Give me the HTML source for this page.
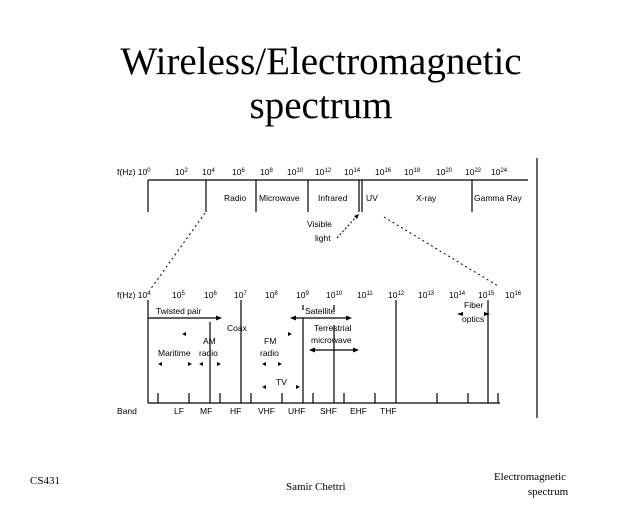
<!DOCTYPE html>
<html><head><style>
body{margin:0;background:#fff;}
svg{display:block;}
.s{font-family:"Liberation Sans",sans-serif;font-size:8.5px;fill:#000;}
.t{font-family:"Liberation Serif",serif;font-size:39px;fill:#000;}
.f{font-family:"Liberation Serif",serif;font-size:11px;fill:#000;}
</style></head><body>
<svg width="640" height="512" viewBox="0 0 640 512" xmlns="http://www.w3.org/2000/svg">
<text class="t" x="321" y="74" text-anchor="middle">Wireless/Electromagnetic</text>
<text class="t" x="321" y="118" text-anchor="middle">spectrum</text>
<g stroke="#000" stroke-width="1.2" fill="none">
<line x1="537" y1="158" x2="537" y2="418"/>
<line x1="148" y1="180" x2="528" y2="180"/>
<line x1="148" y1="180" x2="148" y2="212"/>
<line x1="206" y1="180" x2="206" y2="212"/>
<line x1="256" y1="180" x2="256" y2="212"/>
<line x1="308" y1="180" x2="308" y2="212"/>
<line x1="359" y1="180" x2="359" y2="212"/>
<line x1="362" y1="180" x2="362" y2="212"/>
<line x1="472" y1="180" x2="472" y2="212"/>
<line x1="205" y1="213" x2="150" y2="290" stroke-dasharray="2,3" stroke-width="1"/>
<line x1="384" y1="217" x2="498" y2="286" stroke-dasharray="2,3" stroke-width="1"/>
<line x1="337" y1="238" x2="357" y2="216" stroke-dasharray="2,2" stroke-width="1"/>
<line x1="148" y1="403" x2="500" y2="403"/>
<line x1="148" y1="300" x2="148" y2="403"/>
<line x1="210" y1="322" x2="210" y2="403"/>
<line x1="241" y1="300" x2="241" y2="403"/>
<line x1="303" y1="318" x2="303" y2="403"/>
<line x1="334" y1="325" x2="334" y2="403"/>
<line x1="396" y1="300" x2="396" y2="403"/>
<line x1="488" y1="300" x2="488" y2="403"/>
<line x1="158" y1="393" x2="158" y2="403"/><line x1="189" y1="393" x2="189" y2="403"/>
<line x1="220" y1="393" x2="220" y2="403"/><line x1="251" y1="393" x2="251" y2="403"/>
<line x1="282" y1="393" x2="282" y2="403"/><line x1="313" y1="393" x2="313" y2="403"/>
<line x1="344" y1="393" x2="344" y2="403"/><line x1="375" y1="393" x2="375" y2="403"/>
<line x1="437" y1="393" x2="437" y2="403"/><line x1="468" y1="393" x2="468" y2="403"/>
<line x1="498" y1="393" x2="498" y2="403"/>
<line x1="148" y1="318" x2="218" y2="318"/>
<line x1="293" y1="318" x2="350" y2="318"/>
<line x1="311" y1="350" x2="357" y2="350"/>
<line x1="303" y1="305" x2="303" y2="310" /><line x1="334" y1="305" x2="334" y2="310"/>
</g>
<g fill="#000">
<polygon points="222,318 216,315.5 216,320.5"/>
<polygon points="290,318 296,315.5 296,320.5"/><polygon points="352,318 346,315.5 346,320.5"/>
<polygon points="309,350 315,347.5 315,352.5"/><polygon points="359,350 353,347.5 353,352.5"/>
<polygon points="359,214 354,216 357,219"/>
<polygon points="457,314 463,312 463,316"/><polygon points="490,314 484,312 484,316"/>
<polygon points="182,334 186,332 186,336"/><polygon points="292,334 288,332 288,336"/>
<polygon points="158,364 162,362 162,366"/><polygon points="192,364 188,362 188,366"/>
<polygon points="199,364 203,362 203,366"/><polygon points="221,364 217,362 217,366"/>
<polygon points="262,364 266,362 266,366"/><polygon points="282,364 278,362 278,366"/>
<polygon points="262,387 266,385 266,389"/><polygon points="300,387 296,385 296,389"/>
</g>
<g class="s">
<text x="117" y="175">f(Hz) 10<tspan dy="-3" font-size="6">0</tspan></text>
<text x="175" y="175">10<tspan dy="-3" font-size="6">2</tspan></text>
<text x="202" y="175">10<tspan dy="-3" font-size="6">4</tspan></text>
<text x="232" y="175">10<tspan dy="-3" font-size="6">6</tspan></text>
<text x="260" y="175">10<tspan dy="-3" font-size="6">8</tspan></text>
<text x="287" y="175">10<tspan dy="-3" font-size="6">10</tspan></text>
<text x="315" y="175">10<tspan dy="-3" font-size="6">12</tspan></text>
<text x="344" y="175">10<tspan dy="-3" font-size="6">14</tspan></text>
<text x="375" y="175">10<tspan dy="-3" font-size="6">16</tspan></text>
<text x="404" y="175">10<tspan dy="-3" font-size="6">18</tspan></text>
<text x="436" y="175">10<tspan dy="-3" font-size="6">20</tspan></text>
<text x="465" y="175">10<tspan dy="-3" font-size="6">22</tspan></text>
<text x="491" y="175">10<tspan dy="-3" font-size="6">24</tspan></text>
<text x="224" y="201">Radio</text>
<text x="259" y="201">Microwave</text>
<text x="318" y="201">Infrared</text>
<text x="366" y="201">UV</text>
<text x="416" y="201">X-ray</text>
<text x="474" y="201">Gamma Ray</text>
<text x="307" y="227">Visible</text>
<text x="315" y="241">light</text>
<text x="117" y="298">f(Hz) 10<tspan dy="-3" font-size="6">4</tspan></text>
<text x="172" y="298">10<tspan dy="-3" font-size="6">5</tspan></text>
<text x="204" y="298">10<tspan dy="-3" font-size="6">6</tspan></text>
<text x="234" y="298">10<tspan dy="-3" font-size="6">7</tspan></text>
<text x="265" y="298">10<tspan dy="-3" font-size="6">8</tspan></text>
<text x="296" y="298">10<tspan dy="-3" font-size="6">9</tspan></text>
<text x="326" y="298">10<tspan dy="-3" font-size="6">10</tspan></text>
<text x="357" y="298">10<tspan dy="-3" font-size="6">11</tspan></text>
<text x="388" y="298">10<tspan dy="-3" font-size="6">12</tspan></text>
<text x="418" y="298">10<tspan dy="-3" font-size="6">13</tspan></text>
<text x="449" y="298">10<tspan dy="-3" font-size="6">14</tspan></text>
<text x="478" y="298">10<tspan dy="-3" font-size="6">15</tspan></text>
<text x="505" y="298">10<tspan dy="-3" font-size="6">16</tspan></text>
<text x="156" y="314">Twisted pair</text>
<text x="227" y="331">Coax</text>
<text x="305" y="314">Satellite</text>
<text x="314" y="331">Terrestrial</text>
<text x="311" y="343">microwave</text>
<text x="464" y="308">Fiber</text>
<text x="462" y="322">optics</text>
<text x="203" y="344">AM</text>
<text x="199" y="356">radio</text>
<text x="158" y="356">Maritime</text>
<text x="264" y="344">FM</text>
<text x="260" y="356">radio</text>
<text x="276" y="385">TV</text>
<text x="117" y="414">Band</text>
<text x="174" y="414">LF</text>
<text x="200" y="414">MF</text>
<text x="230" y="414">HF</text>
<text x="258" y="414">VHF</text>
<text x="288" y="414">UHF</text>
<text x="320" y="414">SHF</text>
<text x="350" y="414">EHF</text>
<text x="380" y="414">THF</text>
</g>
<text class="f" x="30" y="484">CS431</text>
<text class="f" x="286" y="490">Samir Chettri</text>
<text class="f" x="530" y="480" text-anchor="middle">Electromagnetic</text>
<text class="f" x="548" y="495" text-anchor="middle">spectrum</text>
</svg>
</body></html>
